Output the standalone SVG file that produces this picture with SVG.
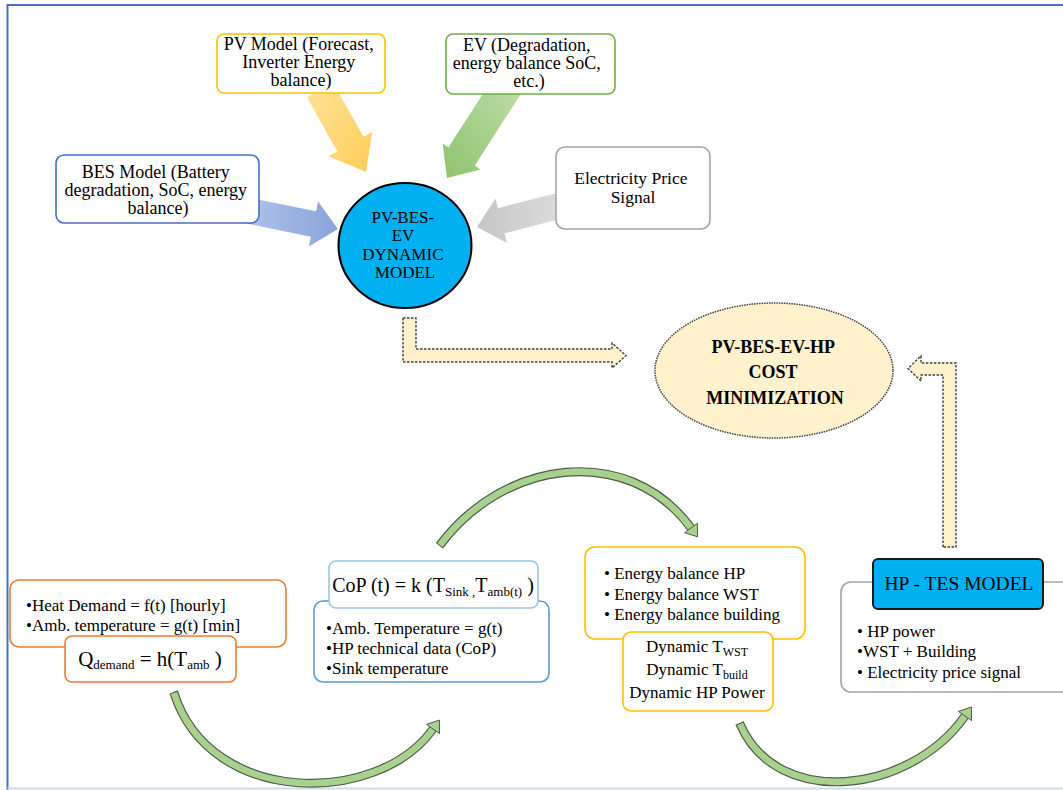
<svg xmlns="http://www.w3.org/2000/svg" width="1063" height="790" viewBox="0 0 1063 790">
  <defs>
    <style>
      .t { font-family: "Liberation Serif", "Times New Roman", serif; fill: #000; }
      .f17 { font-size: 17px; }
      .f18 { font-size: 18px; }
      .box { fill: #fff; stroke-width: 1.6; }
      .orange { stroke: #ED7D31; }
      .gold { stroke: #FFC000; }
      .blue { stroke: #4472C4; }
      .skyblue { stroke: #5B9BD5; }
      .paleblue { stroke: #9DC3E6; }
      .green { stroke: #70AD47; }
      .grey { stroke: #A5A5A5; }
      .dashflow { fill: #FFF2CC; stroke: #404040; stroke-width: 1.4; stroke-dasharray: 2.5 1.5; }
      .arc-edge { fill: none; stroke: #505A4A; stroke-width: 9; }
      .arc-body { fill: none; stroke: #A9D18E; stroke-width: 6.6; }
      .arc-head { fill: #A9D18E; stroke: #505A4A; stroke-width: 1; stroke-linejoin: miter; }
    </style>
    <linearGradient id="gPV" x1="0" y1="0" x2="1" y2="1">
      <stop offset="0" stop-color="#FFE397"/>
      <stop offset="1" stop-color="#FFCD59"/>
    </linearGradient>
    <linearGradient id="gEV" x1="1" y1="0" x2="0" y2="1">
      <stop offset="0" stop-color="#C0DEAA"/>
      <stop offset="1" stop-color="#8EC36E"/>
    </linearGradient>
    <linearGradient id="gBES" x1="0" y1="0" x2="1" y2="0">
      <stop offset="0" stop-color="#B4C6EA"/>
      <stop offset="1" stop-color="#8AA4DA"/>
    </linearGradient>
    <linearGradient id="gGrey" x1="1" y1="0" x2="0" y2="0">
      <stop offset="0" stop-color="#DEDEDE"/>
      <stop offset="1" stop-color="#C6C6C6"/>
    </linearGradient>
  </defs>

  <!-- outer frame -->
  <g id="frame">
    <rect x="0" y="0" width="1063" height="790" fill="#fff"/>
    <path d="M7.5,790 V5 H1063" fill="none" stroke="#4472C4" stroke-width="2"/>
    <line x1="7.5" y1="788.5" x2="1063" y2="788.5" stroke="#D3DBE8" stroke-width="2"/>
  </g>

  <!-- connectors -->
  <g id="connectors">
    <!-- block arrows into the dynamic model -->
    <polygon id="arrow-pv" fill="url(#gPV)" points="333.1,82.7 363.5,136.8 372.2,131.9 366,172 328.6,156.3 337.3,151.4 306.9,97.3"/>
    <polygon id="arrow-ev" fill="url(#gEV)" points="520.2,95 474.8,165.5 480.6,169.4 447,178 442.6,143.6 448.4,147.5 493.8,77"/>
    <polygon id="arrow-bes" fill="url(#gBES)" points="237.6,195.3 316.1,211.3 318.1,201.5 338,229 308.9,246.5 310.9,236.7 232.4,220.7"/>
    <polygon id="arrow-price" fill="url(#gGrey)" points="573.25,215.6 504.45,233.35 506.95,243.05 477,227 495.45,198.45 497.95,208.15 566.75,190.4"/>

    <!-- dashed flows into the cost minimization -->
    <path id="flow-model-cost" class="dashflow" d="M403,318 H416 V349 H612 V343 L626,355.5 L612,368 V362 H403 Z"/>
    <path id="flow-hptes-cost" class="dashflow" d="M943,547 V375 H921 V381 L908,368.5 L921,356 V363 H956 V547 Z"/>

    <!-- curved green arrows of the heat chain -->
    <g id="arc-demand-cop">
      <path class="arc-edge" d="M173.6,692 L174,693 C210,807 378,806 433,729"/>
      <path class="arc-body" d="M174,693 C210,807 378,806 433,729"/>
      <polygon class="arc-head" points="439.4,720.1 439.5,733.6 426.5,724.4"/>
    </g>
    <g id="arc-cop-balance">
      <path class="arc-edge" d="M439.4,545.8 L440,545 C504,459.4 628,442.4 691,528"/>
      <path class="arc-body" d="M440,545 C504,459.4 628,442.4 691,528"/>
      <polygon class="arc-head" points="697.5,536.8 697.4,523.3 684.6,532.7"/>
    </g>
    <g id="arc-balance-hptes">
      <path class="arc-edge" d="M739.6,723 L740,724 C777,810 910,794 965,716"/>
      <path class="arc-body" d="M740,724 C777,810 910,794 965,716"/>
      <polygon class="arc-head" points="971.4,707 971.6,720.6 958.4,711.4"/>
    </g>
  </g>

  <!-- PV model -->
  <g id="node-pv">
    <rect class="box gold" x="217" y="34" width="168" height="59" rx="7"/>
    <text class="t f18" text-anchor="middle">
      <tspan x="301" y="50">PV Model (Forecast,</tspan>
      <tspan x="301" y="68">Inverter Energy</tspan>
      <tspan x="301" y="86">balance)</tspan>
    </text>
  </g>

  <!-- EV model -->
  <g id="node-ev">
    <rect class="box green" x="446" y="34" width="169" height="60" rx="7"/>
    <text class="t f18" text-anchor="middle">
      <tspan x="529" y="51">EV (Degradation,</tspan>
      <tspan x="529" y="69">energy balance SoC,</tspan>
      <tspan x="529" y="87">etc.)</tspan>
    </text>
  </g>

  <!-- BES model -->
  <g id="node-bes">
    <rect class="box blue" x="56" y="155" width="203" height="68" rx="8"/>
    <text class="t f18" text-anchor="middle">
      <tspan x="158" y="178">BES Model (Battery</tspan>
      <tspan x="158" y="196">degradation, SoC, energy</tspan>
      <tspan x="158" y="214">balance)</tspan>
    </text>
  </g>

  <!-- electricity price -->
  <g id="node-price">
    <rect class="box grey" x="556" y="147" width="154" height="82" rx="9"/>
    <text class="t" font-size="17.5" text-anchor="middle">
      <tspan x="633" y="184">Electricity Price</tspan>
      <tspan x="633" y="203">Signal</tspan>
    </text>
  </g>

  <!-- PV-BES-EV dynamic model -->
  <g id="node-dynamic">
    <ellipse cx="405" cy="245.5" rx="66.5" ry="62.5" fill="#00B0F0" stroke="#000" stroke-width="2"/>
    <text class="t f17" text-anchor="middle">
      <tspan x="405" y="222.5">PV-BES-</tspan>
      <tspan x="405" y="241">EV</tspan>
      <tspan x="405" y="259.5">DYNAMIC</tspan>
      <tspan x="405" y="278">MODEL</tspan>
    </text>
  </g>

  <!-- cost minimization -->
  <g id="node-cost">
    <ellipse cx="774" cy="370.5" rx="119" ry="67.5" fill="#FFF2CC" stroke="#404040" stroke-width="1.5" stroke-dasharray="1.5 1"/>
    <text class="t f18" font-weight="bold" text-anchor="middle">
      <tspan x="775" y="353">PV-BES-EV-HP</tspan>
      <tspan x="775" y="378">COST</tspan>
      <tspan x="775" y="404">MINIMIZATION</tspan>
    </text>
  </g>

  <!-- heat demand -->
  <g id="node-demand">
    <rect class="box orange" x="10" y="580" width="276" height="67" rx="9"/>
    <text class="t f17">
      <tspan x="26" y="611">•Heat Demand = f(t) [hourly]</tspan>
      <tspan x="26" y="631">•Amb. temperature = g(t) [min]</tspan>
    </text>
    <rect class="box orange" x="65" y="636" width="171" height="46" rx="7"/>
    <text class="t" font-size="21" text-anchor="middle" x="150" y="666">Q<tspan font-size="13" dy="3">demand</tspan><tspan dy="-3"> = h(T</tspan><tspan font-size="13" dy="3">amb</tspan><tspan dy="-3">  )</tspan></text>
  </g>

  <!-- coefficient of performance -->
  <g id="node-cop">
    <rect class="box skyblue" x="314" y="601" width="235" height="81" rx="9"/>
    <text class="t f17">
      <tspan x="326" y="634">•Amb. Temperature = g(t)</tspan>
      <tspan x="326" y="654">•HP technical data (CoP)</tspan>
      <tspan x="326" y="674">•Sink temperature</tspan>
    </text>
    <rect class="box paleblue" x="329" y="561" width="209" height="47" rx="7"/>
    <text class="t" font-size="20" text-anchor="middle" x="433" y="592">CoP (t) = k (T<tspan font-size="13" dy="4">Sink ,</tspan><tspan dy="-4">T</tspan><tspan font-size="13" dy="4">amb(t)</tspan><tspan dy="-4"> )</tspan></text>
  </g>

  <!-- energy balances -->
  <g id="node-balance">
    <rect class="box gold" x="585" y="547" width="220" height="92" rx="10"/>
    <text class="t f17">
      <tspan x="604" y="579">• Energy balance HP</tspan>
      <tspan x="604" y="600">• Energy balance WST</tspan>
      <tspan x="604" y="620">• Energy balance building</tspan>
    </text>
    <rect class="box gold" x="623" y="632" width="150" height="79" rx="8"/>
    <text class="t f17" text-anchor="middle" x="697" y="652">Dynamic T<tspan font-size="12" dy="4">WST</tspan></text>
    <text class="t f17" text-anchor="middle" x="697" y="675">Dynamic T<tspan font-size="12" dy="4">build</tspan></text>
    <text class="t f17" text-anchor="middle" x="697" y="698">Dynamic HP Power</text>
  </g>

  <!-- HP - TES model -->
  <g id="node-hptes">
    <rect class="box grey" x="841" y="582" width="240" height="110" rx="10" stroke-width="1.8"/>
    <rect x="873" y="559" width="170" height="50" rx="5" fill="#00B0F0" stroke="#1A1A1A" stroke-width="2"/>
    <text class="t" font-size="19.5" text-anchor="middle" x="959" y="590">HP - TES MODEL</text>
    <text class="t f17">
      <tspan x="857" y="637">• HP power</tspan>
      <tspan x="857" y="657">•WST + Building</tspan>
      <tspan x="857" y="678">• Electricity price signal</tspan>
    </text>
  </g>
</svg>
